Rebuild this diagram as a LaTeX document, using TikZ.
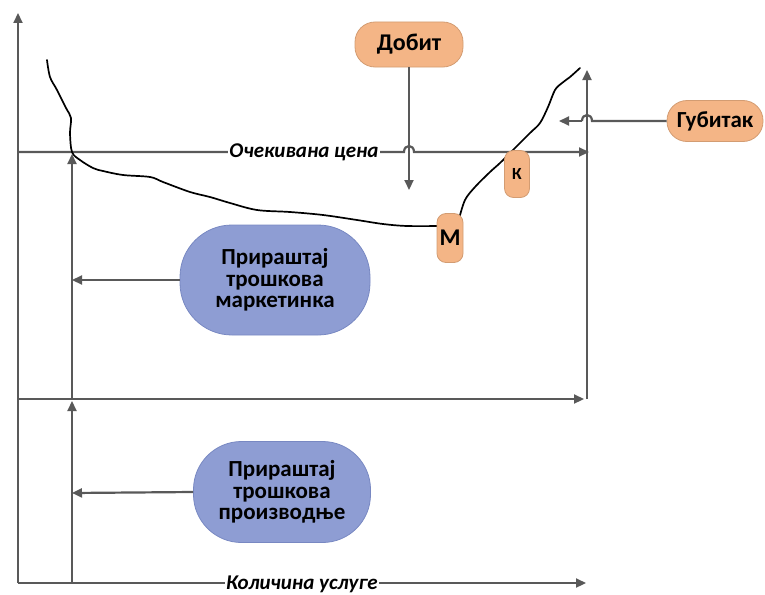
\documentclass[tikz,border=0pt]{standalone}
\usepackage{fontspec}
\setmainfont{Carlito}
\usetikzlibrary{arrows.meta}
\definecolor{lin}{HTML}{595959}
\definecolor{orfill}{HTML}{F4B586}
\definecolor{ordraw}{HTML}{D39C72}
\definecolor{blfill}{HTML}{8E9DD3}
\definecolor{bldraw}{HTML}{7888C2}
\tikzset{
  ax/.style={draw=lin, line width=2.2pt, -{Triangle[length=10pt,width=9pt]}},
  plainline/.style={draw=lin, line width=2.2pt},
  orangebox/.style={draw=ordraw, fill=orfill, line width=0.8pt, font=\bfseries\fontsize{24}{26}\selectfont, inner sep=0pt},
  bluebox/.style={draw=bldraw, fill=blfill, line width=0.8pt, align=center, font=\bfseries\fontsize{23}{21.5}\selectfont, inner sep=0pt},
  axlabel/.style={fill=white, inner sep=1.5pt, font=\bfseries\itshape\fontsize{21}{22}\selectfont},
  curve/.style={draw=black, line width=1.7pt, line join=round, line cap=round}
}
\begin{document}
\begin{tikzpicture}[x=1pt,y=-1pt]
\useasboundingbox (0,0) rectangle (765,594);
% coordinates
\coordinate (O) at (18,583);
\coordinate (Ytop) at (18,13);
\coordinate (Xend) at (586,583);
\coordinate (L400) at (18,399);
\coordinate (R400) at (584,399);
\coordinate (V400) at (587,399);
\coordinate (Vtop) at (587,70);
\coordinate (L152) at (18,152);
\coordinate (H1) at (404,152);
\coordinate (H2) at (414,152);
\coordinate (R152) at (589,152);
\coordinate (I0) at (72,583);
\coordinate (I400) at (72,401);
\coordinate (I400b) at (72,399);
\coordinate (I152) at (72,154);
\coordinate (DobEnd) at (409,190);
\coordinate (G1) at (592,121);
\coordinate (G2) at (582,121);
\coordinate (GEnd) at (559,121);
\coordinate (A1) at (72,280);
\coordinate (A2) at (72,493);
% axes and lines
\draw[ax] (O) -- (Ytop);
\draw[ax] (O) -- (Xend);
\draw[ax] (L400) -- (R400);
\draw[ax] (V400) -- (Vtop);
\draw[ax] (L152) -- (H1) .. controls (404,144) and (414,144) .. (H2) -- (R152);
\draw[ax] (I0) -- (I400);
\draw[ax] (I400b) -- (I152);
% curve
\draw[curve] plot[smooth, tension=0.55] coordinates {(47,60) (50,77) (57,90) (66,108) (71,118) (70,133) (72,152) (80,160) (93,168) (103,171) (123,175) (150,177) (163,182) (190,192) (210,197) (230,203) (257,210) (290,212) (323,215) (357,220) (383,224) (407,226) (440,226)};
\draw[curve] plot[smooth, tension=0.55] coordinates {(459,219) (465,200) (475,187) (490,172) (500,163) (513,150) (530,133) (540,123) (548,107) (555,90) (562,83) (570,77) (580,68)};
% nodes
\node[orangebox, rounded corners=20pt, minimum width=108pt, minimum height=45pt] (dobit) at (409,44.5) {Добит};
\node[orangebox, rounded corners=20pt, minimum width=96pt, minimum height=41pt, font=\bfseries\fontsize{23}{25}\selectfont] (gub) at (715,121) {Губитак};
\node[orangebox, rounded corners=9pt, minimum width=26pt, minimum height=49pt] (M) at (450,238) {М};
\node[orangebox, rounded corners=9pt, minimum width=25pt, minimum height=47pt, font=\bfseries\fontsize{17}{19}\selectfont] (K) at (517,174) {К};
\node[bluebox, rounded corners=52pt, minimum width=190pt, minimum height=110pt] (b1) at (275,280) {Прираштај\\трошкова\\маркетинка};
\node[bluebox, rounded corners=48pt, minimum width=177pt, minimum height=101pt] (b2) at (282,492) {Прираштај\\трошкова\\производње};
% arrows from nodes
\draw[ax] (dobit.south) -- (DobEnd);
\draw[plainline] (gub.west) -- (G1) .. controls (592,113) and (582,113) .. (G2);
\draw[ax] (G2) -- (GEnd);
\draw[ax] (b1.west) -- (A1);
\draw[ax] (b2.west) -- (A2);
% labels
\node[axlabel] (cena) at (304,152) {Очекивана цена};
\node[axlabel] (kol) at (302,584) {Количина услуге};
\end{tikzpicture}
\end{document}
